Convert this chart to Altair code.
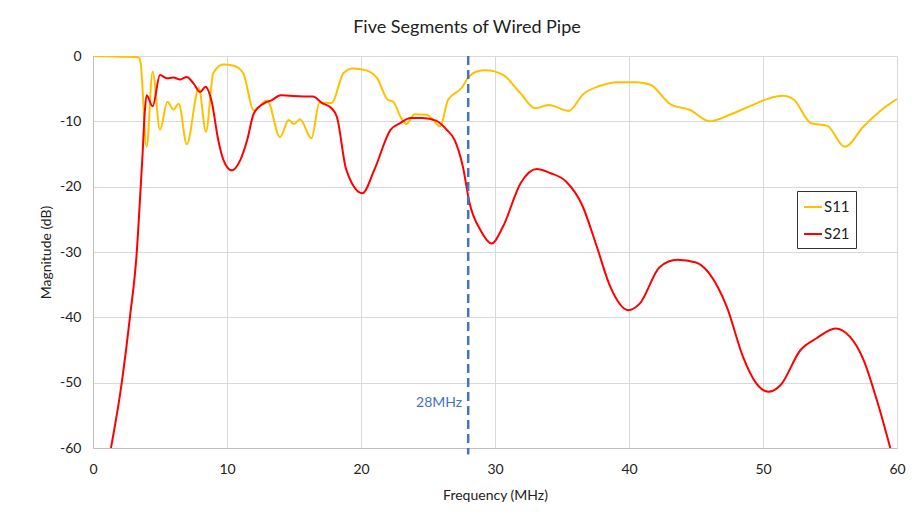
import altair as alt
import pandas as pd

s11_freq = [0, 1, 2, 3, 3.4, 3.55, 4.0, 4.45, 5.0, 5.55, 6.0, 6.4, 7.0, 7.9, 8.43, 8.98, 9.73,
            10.5, 11.2, 12.0, 13.0, 13.96, 14.6, 15.0, 15.45, 16.3, 16.9, 17.8, 18.7, 19.4,
            20.4, 21.2, 22.0, 22.4, 23.0, 23.4, 24.0, 24.9, 25.4, 25.9, 26.5, 27.5, 28.0,
            28.6, 29.3, 30.6, 31.9, 33.0, 34.0, 35.5, 36.6, 37.8, 39.1, 40.6, 41.6, 43.1,
            44.6, 46.0, 47.5, 49.0, 50.3, 51.5, 52.3, 53.6, 54.8, 56.1, 57.5, 59.0, 60.0]
s11_db = [0, -0.05, -0.1, -0.15, -0.2, -1.0, -13.9, -2.4, -11.3, -7.0, -8.2, -7.3, -13.5, -4.9,
          -11.6, -2.6, -1.3, -1.5, -2.6, -8.3, -6.8, -12.4, -9.8, -10.4, -9.7, -12.6, -7.1,
          -7.2, -2.6, -1.9, -2.2, -3.4, -6.7, -7.0, -9.5, -10.4, -8.9, -9.0, -9.8, -10.8,
          -6.7, -4.9, -3.3, -2.4, -2.2, -2.9, -5.7, -8.0, -7.5, -8.4, -5.8, -4.6, -4.0,
          -4.0, -4.4, -7.4, -8.3, -10.0, -9.0, -7.7, -6.6, -6.1, -6.7, -10.3, -10.7, -13.9,
          -10.8, -8.0, -6.6]

s21_freq = [1.34, 2.14, 2.76, 3.26, 3.56, 3.7, 3.85, 4.0, 4.45, 5.0, 5.5, 6.0, 6.5, 7.0, 7.5,
            8.0, 8.4, 8.86, 9.35, 9.73, 10.35, 11.0, 11.5, 12.0, 12.8, 13.3, 14.0, 14.7, 15.7,
            16.4, 17.1, 17.8, 18.2, 18.9, 20.1, 21.0, 22.2, 22.9, 23.7, 24.6, 25.6, 26.4,
            27.0, 27.6, 28.1, 28.9, 29.75, 30.6, 31.9, 33.1, 34.1, 35.3, 36.5, 37.6, 38.6,
            39.95, 40.8, 42.3, 43.6, 45.0, 46.0, 47.3, 48.5, 49.5, 50.4, 51.3, 52.8, 54.0,
            55.4, 56.5, 57.5, 58.5, 59.5]
s21_db = [-60, -50.1, -39.9, -30.2, -20.0, -15.0, -9.0, -6.0, -7.7, -2.9, -3.4, -3.3, -3.6,
          -3.2, -4.2, -5.5, -4.7, -7.0, -12.9, -15.9, -17.5, -15.9, -12.9, -8.8, -7.2, -6.8,
          -6.0, -6.1, -6.2, -6.2, -7.2, -8.0, -9.3, -17.4, -21.0, -17.4, -11.3, -10.3, -9.5,
          -9.5, -9.9, -11.3, -12.9, -16.9, -22.5, -26.6, -28.7, -26.1, -19.5, -17.3, -17.9,
          -19.2, -22.8, -29.2, -35.3, -38.9, -37.9, -32.3, -31.2, -31.6, -33.3, -38.4, -46.0,
          -50.1, -51.4, -50.4, -45.0, -43.2, -41.7, -43.0, -46.5, -52.7, -60.0]

marker_freq = [28]
marker_label = ["28MHz"]
x_ticks = [0, 10, 20, 30, 40, 50, 60]
y_ticks = [0, -10, -20, -30, -40, -50, -60]

FONT = "Lato"

df = pd.concat([
    pd.DataFrame({"freq": s11_freq, "db": s11_db, "series": "S11"}),
    pd.DataFrame({"freq": s21_freq, "db": s21_db, "series": "S21"}),
])
mk = pd.DataFrame({"freq": marker_freq, "top": [0], "bottom": [-61],
                   "label": marker_label, "ly": [-53.1]})

xscale = alt.Scale(domain=[0, 60], nice=False)
yscale = alt.Scale(domain=[-60, 0], nice=False)

lines = alt.Chart(df).mark_line(strokeWidth=2, interpolate="monotone", clip=True).encode(
    x=alt.X("freq:Q", scale=xscale,
            axis=alt.Axis(title="Frequency (MHz)", values=x_ticks,
                          labelExpr="'' + datum.value", labelFlush=False,
                          labelFontSize=14, titleFontSize=14, labelPadding=14,
                          titlePadding=12, ticks=False, domainColor="#BFBFBF",
                          gridColor="#D9D9D9", labelColor="#222", titleColor="#222",
                          labelFont=FONT, titleFont=FONT, titleFontWeight="normal")),
    y=alt.Y("db:Q", scale=yscale,
            axis=alt.Axis(title="Magnitude (dB)", values=y_ticks,
                          labelExpr="'' + datum.value", labelFlush=False,
                          labelFontSize=14, titleFontSize=14, labelPadding=12,
                          titlePadding=6, ticks=False, domainColor="#BFBFBF",
                          gridColor="#D9D9D9", labelColor="#222", titleColor="#222",
                          labelFont=FONT, titleFont=FONT, titleFontWeight="normal")),
    color=alt.Color("series:N",
                    scale=alt.Scale(domain=["S11", "S21"], range=["#FFC000", "#FF0000"]),
                    legend=alt.Legend(title=None, orient="none", legendX=704, legendY=135,
                                      symbolType="stroke", symbolStrokeWidth=2,
                                      symbolSize=324, labelFontSize=15, labelFont=FONT,
                                      labelColor="#222", fillColor="white",
                                      strokeColor="#333", padding=6, rowPadding=9,
                                      labelOffset=1)),
)

rule = alt.Chart(mk).mark_rule(color="#4472C4", strokeWidth=2.5, strokeDash=[9, 5]).encode(
    x=alt.X("freq:Q", scale=xscale),
    y=alt.Y("top:Q", scale=yscale),
    y2="bottom:Q",
)

label = alt.Chart(mk).mark_text(color="#4472C4", fontSize=14, font=FONT, align="right",
                                dx=-6).encode(
    x=alt.X("freq:Q", scale=xscale),
    y=alt.Y("ly:Q", scale=yscale),
    text="label:N",
)

chart = alt.layer(lines, rule, label).properties(
    width=804, height=392,
    title=alt.TitleParams("Five Segments of Wired Pipe", fontSize=18, font=FONT,
                          fontWeight="normal", color="#222", offset=12, dx=-28),
    autosize=alt.AutoSizeParams(type="none"),
    padding={"left": 85, "top": 48, "right": 10, "bottom": 64},
).configure_view(stroke=None)

chart.save("out.html", embed_options={"renderer": "svg", "actions": False})
